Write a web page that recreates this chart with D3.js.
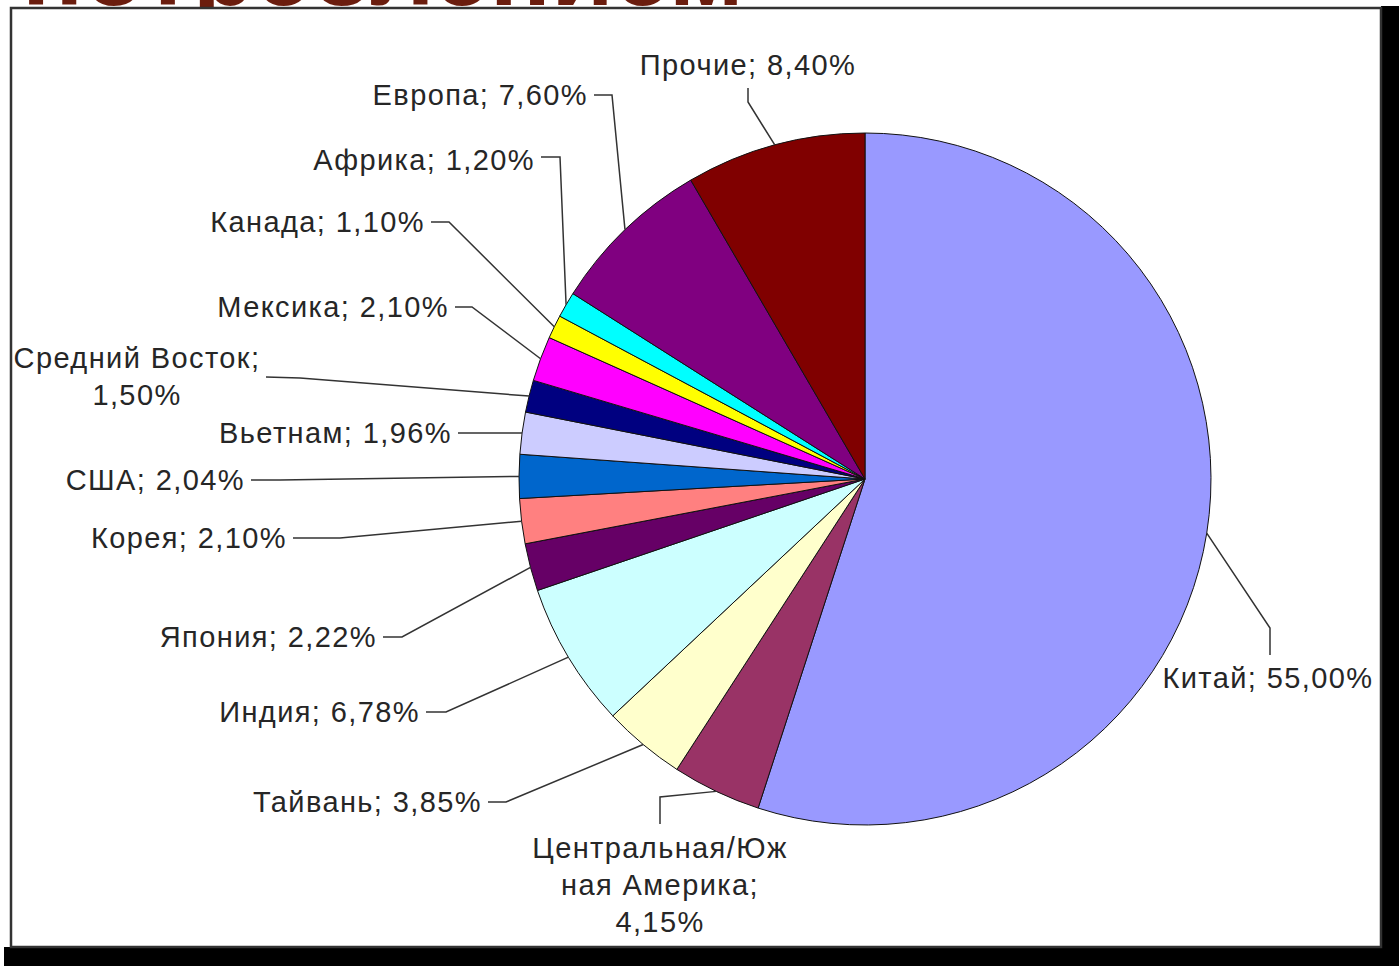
<!DOCTYPE html>
<html>
<head>
<meta charset="utf-8">
<script src="https://cdn.jsdelivr.net/npm/d3@7"></script>
<style>
    body { margin: 0; background: #fff; }
    .label { font-family: "Liberation Sans", Arial, sans-serif; font-size: 29px; fill: #262626; letter-spacing: 1.4px; }
    .leader { fill: none; stroke: #333; stroke-width: 1.5; }
</style>
</head>
<body>
<script>
const categories = ["Китай", "Центральная/Южная Америка", "Тайвань", "Индия", "Япония", "Корея", "США",
    "Вьетнам", "Средний Восток", "Мексика", "Канада", "Африка", "Европа", "Прочие"]
const shares = [55.00, 4.15, 3.85, 6.78, 2.22, 2.10, 2.04, 1.96, 1.50, 2.10, 1.10, 1.20, 7.60, 8.40]
const colors = ["#9999FF", "#993366", "#FFFFCC", "#CCFFFF", "#660066", "#FF8080", "#0066CC",
    "#CCCCFF", "#000080", "#FF00FF", "#FFFF00", "#00FFFF", "#800080", "#800000"]

const WIDTH = 1399
const HEIGHT = 966
const CX = 865
const CY = 479
const R = 346

// label placement, one per slice (same order as categories)
const labelLayout = [
    { x: 1268, y: 678, anchor: "middle", wrap: null, pts: [[1270, 655], [1270, 628]] },
    { x: 660, y: 848, anchor: "middle", wrap: ["Центральная/Юж", "ная Америка;"], pts: [[660, 824], [660, 797]] },
    { x: 482, y: 802, anchor: "end", wrap: null, pts: [[488, 802], [506, 802]] },
    { x: 420, y: 712, anchor: "end", wrap: null, pts: [[426, 712], [446, 712]] },
    { x: 377, y: 637, anchor: "end", wrap: null, pts: [[383, 637], [402, 637]] },
    { x: 287, y: 538, anchor: "end", wrap: null, pts: [[293, 538], [340, 538]] },
    { x: 245, y: 480, anchor: "end", wrap: null, pts: [[251, 480], [280, 480]] },
    { x: 452, y: 433, anchor: "end", wrap: null, pts: [[458, 433], [495, 433]] },
    { x: 137, y: 358, anchor: "middle", wrap: ["Средний Восток;"], pts: [[266, 377], [300, 378]] },
    { x: 449, y: 307, anchor: "end", wrap: null, pts: [[455, 307], [472, 307]] },
    { x: 425, y: 222, anchor: "end", wrap: null, pts: [[431, 222], [449, 222]] },
    { x: 535, y: 160, anchor: "end", wrap: null, pts: [[541, 157], [560, 157]] },
    { x: 588, y: 95, anchor: "end", wrap: null, pts: [[594, 95], [612, 95]] },
    { x: 748, y: 65, anchor: "middle", wrap: null, pts: [[748, 88], [748, 102]] }
]

const fmt = v => d3.format(".2f")(v).replace(".", ",") + "%"

const svg = d3.select("body")
    .append("svg")
    .attr("width", WIDTH)
    .attr("height", HEIGHT)

// heading of the slide, cut off by the frame
svg.append("text")
    .attr("x", 22)
    .attr("y", 5)
    .attr("textLength", 722)
    .attr("lengthAdjust", "spacingAndGlyphs")
    .style("font-family", "Liberation Sans, Arial, sans-serif")
    .style("font-weight", "bold")
    .style("font-size", "100px")
    .style("fill", "#6b1d0e")
    .text("потреблением")

// shadow bands
svg.append("rect").attr("x", 1381).attr("y", 6).attr("width", WIDTH - 1381).attr("height", HEIGHT - 6).attr("fill", "#000")
svg.append("rect").attr("x", 4).attr("y", 947).attr("width", WIDTH - 4).attr("height", HEIGHT - 947).attr("fill", "#000")

// chart frame
svg.append("rect")
    .attr("x", 11)
    .attr("y", 8)
    .attr("width", 1370)
    .attr("height", 939)
    .attr("fill", "#fff")
    .attr("stroke", "#333")
    .attr("stroke-width", 2.5)

const data = categories.map((c, i) => ({ name: c, value: shares[i], color: colors[i], layout: labelLayout[i] }))

const pie = d3.pie()
    .sort(null)
    .value(d => d.value)
    .startAngle(0)
    .endAngle(2 * Math.PI)

const arc = d3.arc().innerRadius(0).outerRadius(R)
const edgeArc = d3.arc().innerRadius(R).outerRadius(R)

const arcs = pie(data)

const g = svg.append("g")
    .attr("transform", "translate(" + CX + "," + CY + ")")

g.selectAll("path.slice")
    .data(arcs)
    .enter()
    .append("path")
    .attr("class", "slice")
    .attr("d", arc)
    .attr("fill", d => d.data.color)
    .attr("stroke", "#111")
    .attr("stroke-width", 1)

// leader lines
svg.selectAll("path.leader")
    .data(arcs)
    .enter()
    .append("path")
    .attr("class", "leader")
    .attr("d", d => {
        const c = edgeArc.centroid(d)
        const pts = d.data.layout.pts.concat([[c[0] + CX, c[1] + CY]])
        return d3.line()(pts)
    })

// labels
arcs.forEach(d => {
    const L = d.data.layout
    const lines = L.wrap ? L.wrap.concat([fmt(d.data.value)]) : [d.data.name + "; " + fmt(d.data.value)]
    const t = svg.append("text")
        .attr("class", "label")
        .attr("text-anchor", L.anchor)
    lines.forEach((s, i) => {
        t.append("tspan")
            .attr("x", L.x)
            .attr("y", L.y + 10 + i * 37)
            .text(s)
    })
})
</script>
</body>
</html>
